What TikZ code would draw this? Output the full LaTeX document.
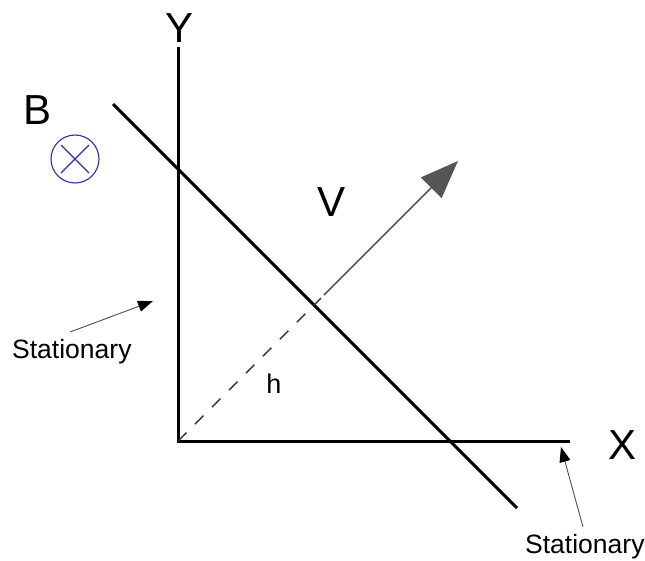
\documentclass[tikz,border=0pt]{standalone}
\usepackage{fontspec}
\setmainfont{Liberation Sans}
\usetikzlibrary{arrows.meta}
\definecolor{bblue}{RGB}{45,45,170}
\definecolor{vgray}{RGB}{85,85,85}
\tikzset{
  big/.style={inner sep=0pt, anchor=base, font=\fontsize{42}{42}\selectfont},
  small/.style={inner sep=0pt, anchor=base west, font=\fontsize{26.5}{26.5}\selectfont},
  axis/.style={line width=3pt, black},
  pointer/.style={line width=0.9pt, black!70, -{Triangle[length=15pt,width=11pt,color=black]}},
}
\begin{document}
\begin{tikzpicture}[x=1pt,y=-1pt]
\useasboundingbox (0,0) rectangle (645,560);
% axes
\coordinate (O) at (178,441);
\coordinate (Ytop) at (178,47);
\coordinate (Xend) at (570,441);
\draw[axis] (Ytop) -- (O) -- (Xend);
% moving bar
\coordinate (D1) at (113,104);
\coordinate (D2) at (517,508);
\draw[line width=3pt] (D1) -- (D2);
% velocity / h
\coordinate (Hend) at (321,298);
\coordinate (Vs) at (324,295);
\coordinate (Vt) at (458,161);
\draw[line width=1.4pt, black!80, dash pattern=on 12pt off 12pt] (O) -- (Hend);
\draw[line width=1.6pt, vgray, -{Triangle[length=38pt,width=29pt]}] (Vs) -- (Vt);
% labels
\node[big] (Y) at (180,42) {Y};
\node[big] (X) at (622,459) {X};
\node[big] (B) at (38,124) {B};
\node[big] (V) at (332,216) {V};
\node[inner sep=0pt, anchor=base, font=\fontsize{27}{27}\selectfont] (h) at (274,393) {h};
% B field symbol
\node[circle, draw=bblue, line width=1.1pt, minimum size=48pt, inner sep=0pt] (Bc) at (75,159) {};
\draw[bblue, line width=1.1pt] (Bc.center) ++(-14,-14) -- ++(28,28);
\draw[bblue, line width=1.1pt] (Bc.center) ++(14,-14) -- ++(-28,28);
% stationary labels
\node[small] (S1) at (12,358) {Stationary};
\coordinate (S1a) at (70,332);
\coordinate (S1t) at (153,301);
\draw[pointer] (S1a) -- (S1t);
\node[small] (S2) at (525,553) {Stationary};
\coordinate (S2a) at (583,527);
\coordinate (S2t) at (561,447);
\draw[pointer] (S2a) -- (S2t);
\end{tikzpicture}
\end{document}
